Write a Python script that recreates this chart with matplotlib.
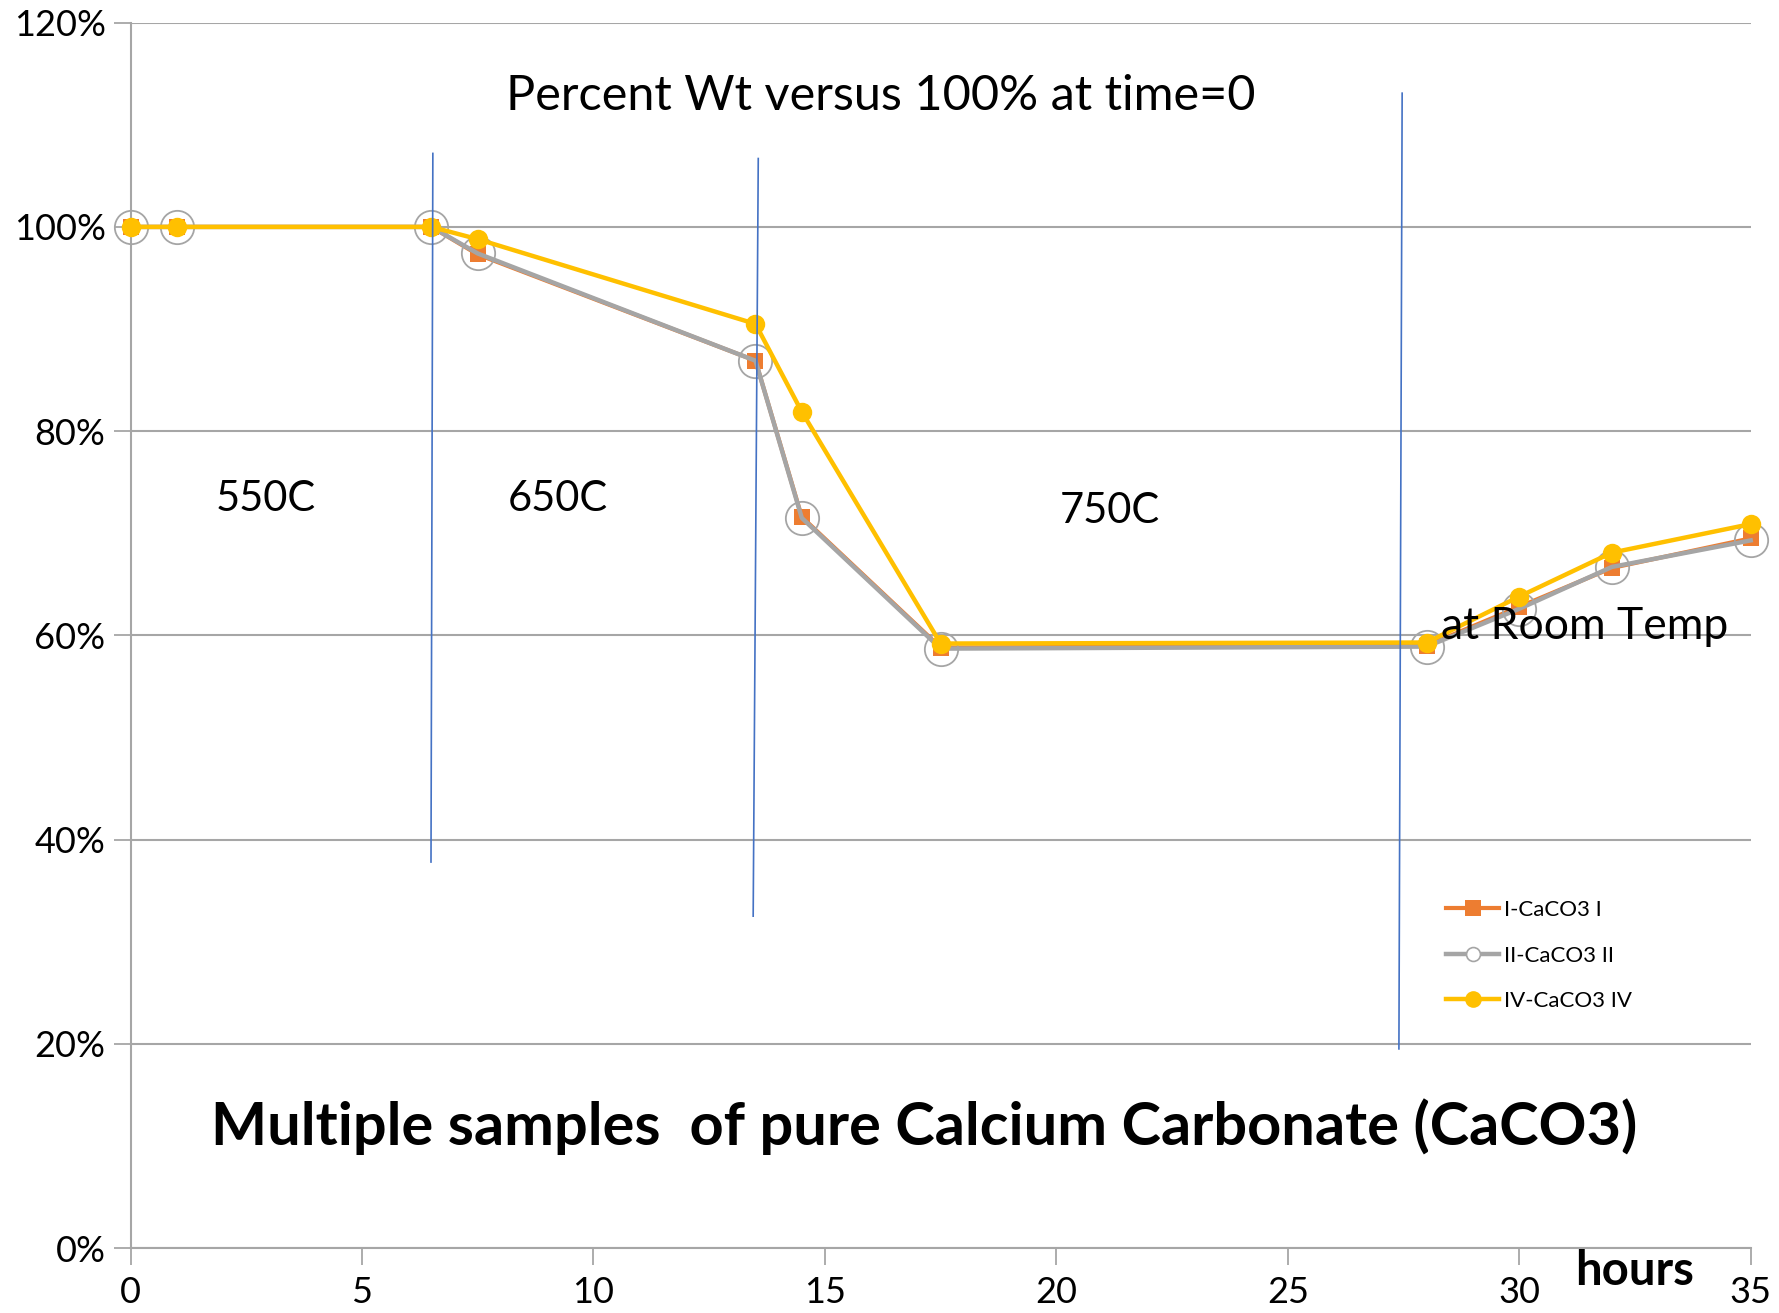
import matplotlib
matplotlib.use("Agg")
import matplotlib.pyplot as plt
from matplotlib.lines import Line2D
from matplotlib.ticker import PercentFormatter

plt.rcParams["font.family"] = ["Lato", "DejaVu Sans"]

# hours since start
hours = [0, 1, 6.5, 7.5, 13.5, 14.5, 17.5, 28, 30, 32, 35]

# percent weight relative to time 0
caco3_i = [100, 100, 100, 97.3, 86.9, 71.6, 58.8, 59.0, 62.8, 66.6, 69.5]
caco3_ii = [100, 100, 100, 97.4, 86.9, 71.5, 58.7, 58.9, 62.6, 66.7, 69.3]
caco3_iv = [100, 100, 100, 98.8, 90.5, 81.9, 59.2, 59.3, 63.8, 68.1, 70.9]

series_labels = ["I-CaCO3 I", "II-CaCO3 II", "IV-CaCO3 IV"]

# hand-drawn phase separators (x0, y0, x1, y1)
separators = [
    (6.53, 107.2, 6.49, 37.8),
    (13.56, 106.7, 13.45, 32.5),
    (27.47, 113.1, 27.40, 19.5),
]

phase_labels = [("550C", 2.93, 73.4), ("650C", 9.24, 73.4), ("750C", 21.15, 72.2)]

ORANGE = "#ED7D31"
GRAY = "#A5A5A5"
YELLOW = "#FFC000"
BLUE = "#4472C4"
AXIS_GRAY = "#A6A6A6"

fig = plt.figure(figsize=(17.79, 13.13), dpi=100)
ax = fig.add_axes([0.0734, 0.0495, 0.9107, 0.9332])

ax.plot(hours, caco3_i, color=ORANGE, linewidth=3, marker="s", markersize=12,
        markeredgewidth=0, zorder=3, clip_on=False)
ax.plot(hours, caco3_ii, color=GRAY, linewidth=3.2, marker="o", markersize=24,
        markerfacecolor="none", markeredgecolor=GRAY, markeredgewidth=1.3,
        zorder=4, clip_on=False)
ax.plot(hours, caco3_iv, color=YELLOW, linewidth=3.2, marker="o", markersize=14,
        markeredgewidth=0, zorder=5, clip_on=False)

for x0, y0, x1, y1 in separators:
    ax.plot([x0, x1], [y0, y1], color=BLUE, linewidth=1.2, zorder=6)

for txt, x, y in phase_labels:
    ax.text(x, y, txt, fontsize=30, ha="center", va="center")

ax.text(16.2, 112.8, "Percent Wt versus 100% at time=0", fontsize=35,
        ha="center", va="center")
ax.text(28.3, 60.9, "at Room Temp", fontsize=32, ha="left", va="center", zorder=7)
ax.text(17.15, 11.85, "Multiple samples  of pure Calcium Carbonate (CaCO3)",
        fontsize=42.8, fontweight="bold", ha="center", va="center")
ax.text(32.5, -2.3, "hours", fontsize=34, fontweight="bold", ha="center",
        va="center", clip_on=False)

ax.set_xlim(0, 35)
ax.set_ylim(0, 120)
ax.set_xticks(range(0, 36, 5))
ax.set_yticks(range(0, 121, 20))
ax.yaxis.set_major_formatter(PercentFormatter(decimals=0))
ax.tick_params(axis="both", labelsize=26, color=AXIS_GRAY, length=12, width=1.3)
ax.tick_params(axis="x", pad=8)
ax.tick_params(axis="y", pad=6)

ax.grid(axis="y", color=AXIS_GRAY, linewidth=1.5)
ax.set_axisbelow(True)
for side in ["top", "right"]:
    ax.spines[side].set_visible(False)
for side in ["left", "bottom"]:
    ax.spines[side].set_color(AXIS_GRAY)
    ax.spines[side].set_linewidth(1.5)

handles = [
    Line2D([], [], color=ORANGE, linewidth=3, marker="s", markersize=12,
           markeredgewidth=0),
    Line2D([], [], color=GRAY, linewidth=3.2, marker="o", markersize=10,
           markerfacecolor="white", markeredgecolor=GRAY, markeredgewidth=1.2),
    Line2D([], [], color=YELLOW, linewidth=3.2, marker="o", markersize=12,
           markeredgewidth=0),
]
ax.legend(handles, series_labels, loc="upper left",
          bbox_to_anchor=(1426 / 1779, 1 - 880 / 1313),
          bbox_transform=fig.transFigure, frameon=False, fontsize=16,
          handlelength=2.4, handletextpad=0.2, labelspacing=1.15)

fig.savefig("out.png", dpi=100)
